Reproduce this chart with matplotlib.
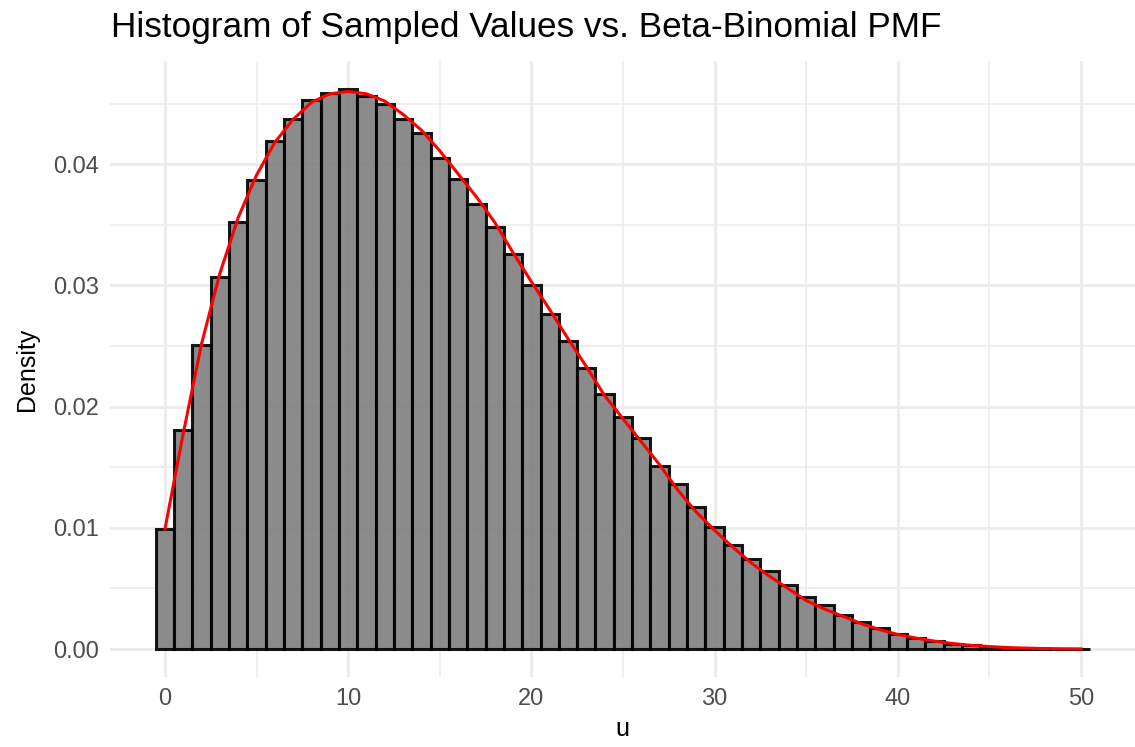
import matplotlib

matplotlib.use("Agg")
import matplotlib.pyplot as plt
import numpy as np

# sampled histogram (density per integer bin)
u_values = np.arange(0, 51)
hist_density = [
    0.0099, 0.0181, 0.0251, 0.0307, 0.0352, 0.0387, 0.0419, 0.0437, 0.0453, 0.0459,
    0.0462, 0.0456, 0.0450, 0.0437, 0.0426, 0.0405, 0.0388, 0.0367, 0.0348, 0.0326,
    0.0300, 0.0276, 0.0254, 0.0232, 0.0210, 0.0191, 0.0174, 0.0151, 0.0136, 0.0117,
    0.0101, 0.0086, 0.0074, 0.0064, 0.0053, 0.0043, 0.0036, 0.0028, 0.0022, 0.0017,
    0.0012, 0.0009, 0.00066, 0.00044, 0.0003, 0.0002, 0.00012, 0.00007, 0.00004, 0.00002,
    0.00001,
]
# beta-binomial pmf at each u
pmf_values = [
    0.0099, 0.0178, 0.0252, 0.0310, 0.0356, 0.0391, 0.0418, 0.0437, 0.0451, 0.0458,
    0.0460, 0.0458, 0.0452, 0.0441, 0.0428, 0.0411, 0.0392, 0.0373, 0.0352, 0.0327,
    0.0303, 0.0280, 0.0256, 0.0233, 0.0209, 0.0190, 0.0171, 0.0152, 0.0131, 0.0113,
    0.0098, 0.0084, 0.0071, 0.0060, 0.0050, 0.0040, 0.0033, 0.0027, 0.0021, 0.0016,
    0.0012, 0.0009, 0.00065, 0.00045, 0.0003, 0.0002, 0.00012, 0.00007, 0.00004, 0.00002,
    0.00001,
]
x_ticks = [0, 10, 20, 30, 40, 50]
y_ticks = [0.00, 0.01, 0.02, 0.03, 0.04]

plt.rcParams["font.family"] = ["Liberation Sans", "DejaVu Sans"]

W, H = 1135, 747
fig = plt.figure(figsize=(W / 100, H / 100), dpi=100)
ax = fig.add_axes([110 / W, (H - 677) / H, (1135 - 110) / W, (677 - 61) / H])

grid_col = "#EBEBEB"
ax.set_xticks(x_ticks)
ax.set_xticks([5, 15, 25, 35, 45], minor=True)
ax.set_yticks(y_ticks)
ax.set_yticks([0.005, 0.015, 0.025, 0.035, 0.045], minor=True)
ax.grid(True, which="major", color=grid_col, linewidth=2.0)
ax.grid(True, which="minor", color=grid_col, linewidth=1.1)
ax.set_axisbelow(True)

ax.bar(u_values, hist_density, width=1.0, color="#7F7F7F", alpha=0.9,
       edgecolor="black", linewidth=2.2, zorder=2)
ax.plot(u_values, pmf_values, color="red", linewidth=2.2, zorder=3)

ax.set_xlim(-3.0, 52.95)
ax.set_ylim(-0.00231, 0.04851)
ax.set_yticklabels([f"{v:.2f}" for v in y_ticks])
for s in ax.spines.values():
    s.set_visible(False)
ax.tick_params(which="both", length=0)
ax.tick_params(axis="both", labelsize=17, colors="#4D4D4D", pad=8)

ax.set_xlabel("u", fontsize=18, labelpad=5)
ax.set_ylabel("Density", fontsize=18, labelpad=10)
fig.text(111 / W, 1 - 28 / H, "Histogram of Sampled Values vs. Beta-Binomial PMF",
         fontsize=25.3, ha="left", va="center")

fig.savefig("out.png", dpi=100)
